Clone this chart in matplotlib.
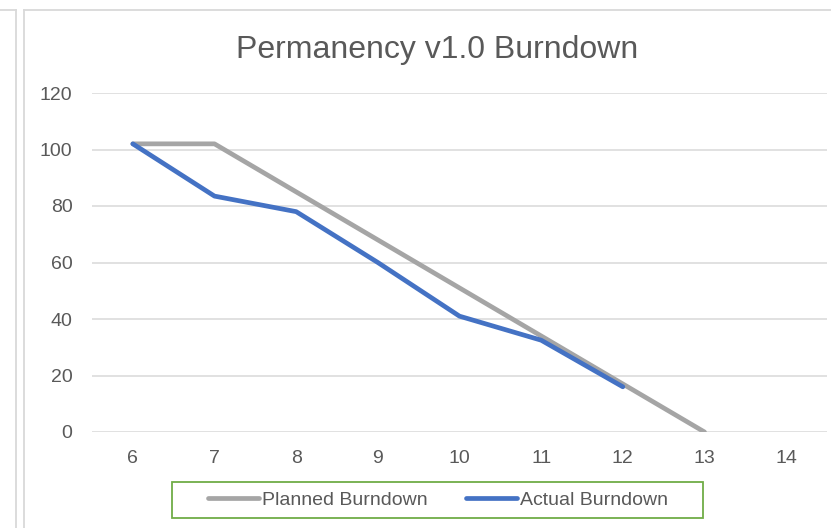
import matplotlib
matplotlib.use("Agg")
import matplotlib.pyplot as plt
from matplotlib.lines import Line2D
from matplotlib.patches import Rectangle

# data
weeks = [6, 7, 8, 9, 10, 11, 12, 13, 14]
planned_weeks = [6, 7, 8, 9, 10, 11, 12, 13]
planned = [102, 102, 85, 68, 51, 34, 17, 0]
actual_weeks = [6, 7, 8, 9, 10, 11, 12]
actual = [102, 83.5, 78, 60, 41, 32.5, 16]
y_ticks = [0, 20, 40, 60, 80, 100, 120]

W, H = 831, 528
txt = "#595959"
grid = "#D9D9D9"
plt.rcParams["font.family"] = ["Liberation Sans", "DejaVu Sans"]

fig = plt.figure(figsize=(W / 100, H / 100), dpi=100)
fig.patch.set_facecolor("white")

# panel borders (left neighbour panel and this chart's frame)
def px_line(x0, y0, x1, y1):
    fig.add_artist(Line2D([x0 / W, x1 / W], [1 - y0 / H, 1 - y1 / H],
                          color=grid, lw=1.3, transform=fig.transFigure))

px_line(0, 10, 16, 10)
px_line(16, 10, 16, H)
px_line(24, 10, W, 10)
px_line(24, 10, 24, H)

ax = fig.add_axes([92 / W, 1 - 432 / H, (827 - 92) / W, (432 - 93) / H])
ax.plot(planned_weeks, planned, color="#A5A5A5", lw=3.4,
        solid_capstyle="round", solid_joinstyle="round", label="Planned Burndown")
ax.plot(actual_weeks, actual, color="#4472C4", lw=3.4,
        solid_capstyle="round", solid_joinstyle="round", label="Actual Burndown")

ax.set_xlim(5.5, 14.5)
ax.set_ylim(0, 120)
ax.set_xticks(weeks)
ax.set_yticks(y_ticks)
ax.yaxis.grid(True, color=grid, lw=1.1)
ax.set_axisbelow(True)
for s in ax.spines.values():
    s.set_visible(False)
ax.tick_params(length=0, labelsize=14, colors=txt)
ax.tick_params(axis="y", pad=14)
ax.tick_params(axis="x", pad=13)

fig.text(437.5 / W, 1 - 58 / H, "Permanency v1.0 Burndown", ha="center",
         va="baseline", fontsize=23, color=txt)

# legend box
fig.add_artist(Rectangle((172 / W, 1 - 518 / H), (703 - 172) / W, 36 / H,
                         transform=fig.transFigure, fill=False,
                         edgecolor="#70AD47", lw=1.3))
fig.legend(loc="center", bbox_to_anchor=(438 / W, 1 - 500 / H), ncol=2,
           frameon=False, fontsize=14, handlelength=2.6, handletextpad=0.15,
           columnspacing=2.0, labelcolor=txt)

fig.savefig("out.png", dpi=100)
